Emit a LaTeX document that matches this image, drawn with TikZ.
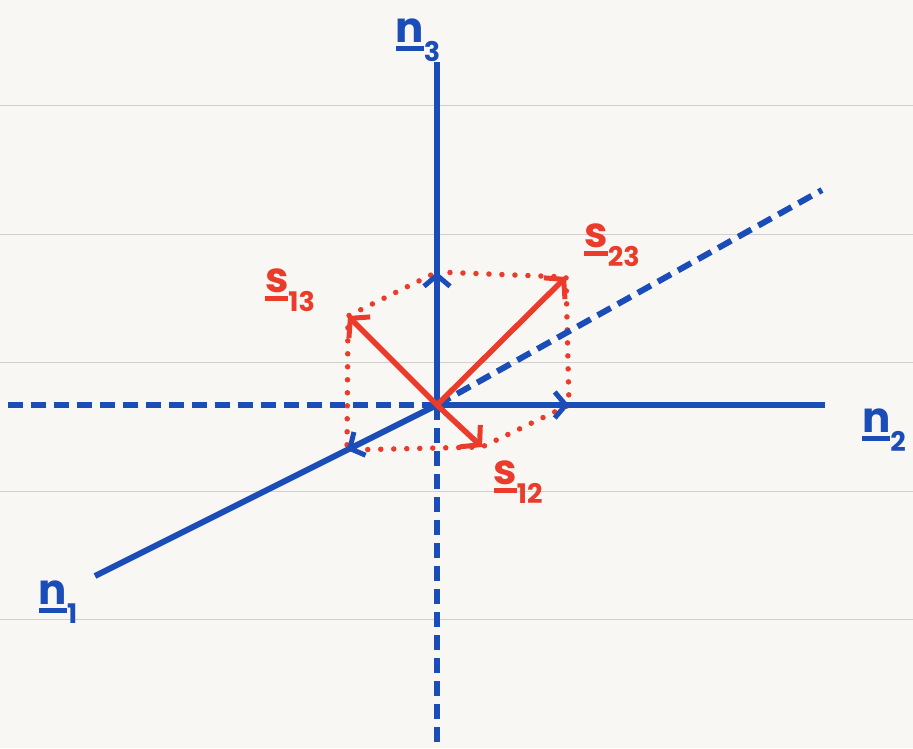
\documentclass[tikz,border=0pt]{standalone}
\usepackage{fontspec}
\setmainfont{Poppins}
\usetikzlibrary{arrows.meta}
\definecolor{paper}{HTML}{F9F7F3}
\definecolor{rule}{HTML}{D3CFCA}
\definecolor{axblue}{HTML}{1B4DB8}
\definecolor{vred}{HTML}{EA3B2B}
\newcommand\ulsym[1]{\setbox0\hbox{#1}\rlap{\rule[-0.2em]{\wd0}{0.12em}}\box0}
\newcommand\lab[2]{\bfseries\ulsym{#1}\raisebox{-0.45em}{\fontsize{27}{27}\selectfont #2}}
\begin{document}
\begin{tikzpicture}[x=1pt,y=-1pt,
  axis/.style={axblue,line width=6pt},
  dashaxis/.style={axblue,line width=6pt,dash pattern=on 15pt off 8pt},
  axhead/.style={axblue,line width=5pt,line cap=round,-{Straight Barb[length=11pt,width=26pt,line width=5pt]}},
  vec/.style={vred,line width=5.5pt,-{Straight Barb[length=13pt,width=30pt,line width=5pt]}},
  dots/.style={vred,line width=5.5pt,line cap=round,dash pattern=on 0pt off 13pt},
  lbl/.style={font=\fontsize{42}{42}\selectfont,inner sep=0pt},
  grid/.style={rule,line width=1pt}]
\fill[paper] (0,0) rectangle (913,748);
\useasboundingbox (0,0) rectangle (913,748);
\foreach \yy in {105,234,362,491,619} \draw[grid] (0,\yy) -- (913,\yy);
% points
\coordinate (O) at (437,405);
\coordinate (n3top) at (437,62);
\coordinate (n3bot) at (437,748);
\coordinate (n2end) at (825,405);
\coordinate (n2neg) at (8,405);
\coordinate (n1end) at (95,576);
\coordinate (n1neg) at (822,190);
\coordinate (h3) at (437,272);
\coordinate (h2) at (569,405);
\coordinate (h1) at (347,450);
\coordinate (t23) at (566,277);
\coordinate (t13) at (348,316);
\coordinate (t12) at (482,447);
% dotted box
\draw[dots] (h3) -- (t23) -- (h2) -- (t12) -- (h1) -- (t13) -- cycle;
% axes
\draw[dashaxis] (O) -- (n3bot);
\draw[dashaxis] (O) -- (n2neg);
\draw[dashaxis] (O) -- (n1neg);
\draw[axis] (O) -- (n3top);
\draw[axis] (O) -- (n2end);
\draw[axis] (O) -- (n1end);
\draw[axhead] (O) -- (h3);
\draw[axhead] (O) -- (h2);
\draw[axhead] (O) -- (h1);
% vectors
\draw[vec] (O) -- (t23);
\draw[vec] (O) -- (t13);
\draw[vec] (O) -- (t12);
% labels
\node[lbl,axblue] (L3) at (418,40) {\lab{n}{3}};
\node[lbl,axblue] (L2) at (884,430) {\lab{n}{2}};
\node[lbl,axblue] (L1) at (58,602) {\lab{n}{1}};
\node[lbl,vred] (S13) at (290,290) {\lab{s}{13}};
\node[lbl,vred] (S23) at (612,245) {\lab{s}{23}};
\node[lbl,vred] (S12) at (518,482) {\lab{s}{12}};
\end{tikzpicture}
\end{document}
